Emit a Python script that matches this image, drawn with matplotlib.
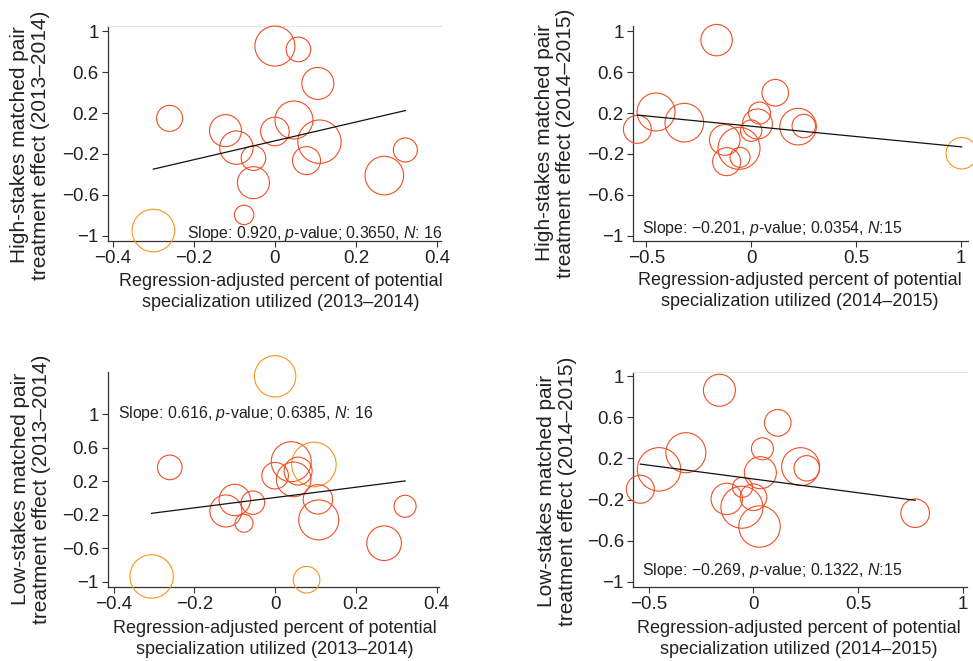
import matplotlib
matplotlib.use("Agg")
import matplotlib.pyplot as plt
import numpy as np

plt.rcParams["font.family"] = ["Liberation Sans", "DejaVu Sans"]
plt.rcParams["mathtext.fontset"] = "custom"
plt.rcParams["mathtext.rm"] = "Liberation Sans"
plt.rcParams["mathtext.it"] = "Liberation Sans:italic"

RED = "#F04E23"
ORANGE = "#F7941D"
INK = "#222222"

# ---- High-stakes, 2013-2014 ----
hs13_x = [0.000, 0.058, 0.106, -0.260, -0.122, 0.000, 0.047, 0.110,
          -0.095, -0.053, 0.078, 0.322, 0.270, -0.053, -0.076, -0.300]
hs13_y = [0.854, 0.821, 0.489, 0.148, 0.028, 0.020, 0.132, -0.080,
          -0.138, -0.240, -0.265, -0.161, -0.411, -0.480, -0.795, -0.948]
hs13_w = [20.0, 12.3, 16.0, 13.0, 16.0, 14.3, 19.0, 21.7,
          16.7, 12.3, 14.0, 12.0, 19.3, 16.0, 9.7, 21.3]
hs13_flag = [0, 0, 0, 0, 0, 0, 0, 0, 0, 0, 0, 0, 0, 0, 0, 1]
hs13_fit = (0.920, -0.072)
hs13_note = "Slope: 0.920, $p$-value; 0.3650, $N$: 16"

# ---- High-stakes, 2014-2015 ----
hs14_x = [-0.165, -0.543, -0.454, -0.319, -0.126, -0.117, -0.058, -0.053,
          0.000, 0.030, 0.040, 0.115, 0.224, 0.251, 1.005]
hs14_y = [0.912, 0.041, 0.210, 0.106, -0.063, -0.275, -0.145, -0.233,
          0.028, 0.093, 0.200, 0.398, 0.067, 0.073, -0.193]
hs14_w = [15.7, 14.0, 19.0, 19.3, 15.3, 14.0, 21.0, 10.0,
          10.7, 15.0, 11.0, 13.3, 18.3, 11.7, 15.7]
hs14_flag = [0, 0, 0, 0, 0, 0, 0, 0, 0, 0, 0, 0, 0, 0, 1]
hs14_fit = (-0.201, 0.071)
hs14_note = "Slope: \u22120.201, $p$-value; 0.0354, $N$:15"

# ---- Low-stakes, 2013-2014 ----
ls13_x = [0.000, -0.261, 0.000, 0.040, 0.096, 0.057, 0.046, 0.106, 0.108,
          -0.100, -0.055, -0.122, -0.077, 0.322, 0.270, -0.306, 0.078]
ls13_y = [1.452, 0.365, 0.266, 0.433, 0.400, 0.321, 0.222, -0.016, -0.262,
          -0.024, -0.056, -0.155, -0.302, -0.099, -0.540, -0.937, -0.976]
ls13_w = [20.7, 12.3, 13.3, 20.0, 22.3, 14.0, 17.3, 14.7, 20.0,
          15.7, 11.7, 16.0, 9.0, 11.0, 17.3, 21.7, 13.3]
ls13_flag = [1, 0, 0, 0, 1, 0, 0, 0, 0, 0, 0, 0, 0, 0, 0, 1, 1]
ls13_fit = (0.616, 0.005)
ls13_note = "Slope: 0.616, $p$-value; 0.6385, $N$: 16"

# ---- Low-stakes, 2014-2015 ----
ls14_x = [-0.162, 0.116, 0.043, -0.322, -0.450, -0.539, 0.033, 0.225,
          0.254, -0.052, 0.000, -0.127, -0.055, 0.029, 0.771]
ls14_y = [0.864, 0.547, 0.294, 0.256, 0.094, -0.100, 0.061, 0.120,
          0.104, -0.081, -0.178, -0.194, -0.275, -0.463, -0.333]
ls14_w = [16.0, 13.3, 11.0, 20.0, 21.7, 14.0, 16.0, 19.0,
          12.7, 10.0, 13.3, 15.7, 21.0, 20.7, 14.3]
ls14_flag = [0] * 15
ls14_fit = (-0.269, 0.000)
ls14_note = "Slope: \u22120.269, $p$-value; 0.1322, $N$:15"

y_ticks = [-1, -0.6, -0.2, 0.2, 0.6, 1]
y_labels = ["\u22121", "\u22120.6", "\u22120.2", "0.2", "0.6", "1"]
x_ticks_a = [-0.4, -0.2, 0, 0.2, 0.4]
x_labels_a = ["\u22120.4", "\u22120.2", "0", "0.2", "0.4"]
x_ticks_b = [-0.5, 0, 0.5, 1]
x_labels_b = ["\u22120.5", "0", "0.5", "1"]

ylab_hs13 = "High-stakes matched pair\ntreatment effect (2013\u20132014)"
ylab_hs14 = "High-stakes matched pair\ntreatment effect (2014\u20132015)"
ylab_ls13 = "Low-stakes matched pair\ntreatment effect (2013\u20132014)"
ylab_ls14 = "Low-stakes matched pair\ntreatment effect (2014\u20132015)"
xlab_13 = "Regression-adjusted percent of potential\nspecialization utilized (2013\u20132014)"
xlab_14 = "Regression-adjusted percent of potential\nspecialization utilized (2014\u20132015)"

W, H = 973, 661
fig = plt.figure(figsize=(W / 100, H / 100), dpi=100)


def px_axes(left, top, right, bottom):
    return fig.add_axes([left / W, 1 - bottom / H, (right - left) / W, (bottom - top) / H])


def panel(box, xs, ys, ws, flags, fit, note, note_pos, note_ha,
          xlim, ylim, xt, xl, ylab, ylab_px, xlab, xlab_px, top_rule):
    ax = px_axes(*box)
    xs = np.asarray(xs)
    ys = np.asarray(ys)
    ws = np.asarray(ws)
    cols = [ORANGE if f else RED for f in flags]
    # weight -> marker area (points^2)
    sizes = (2 * ws * 0.72) ** 2
    ax.scatter(xs, ys, s=sizes, facecolors="none", edgecolors=cols,
               linewidths=0.8, clip_on=False, zorder=3)
    slope, icpt = fit
    lx = np.array([xs.min(), xs.max()])
    ax.plot(lx, icpt + slope * lx, color="#111111", lw=0.9, zorder=4)
    ax.set_xlim(*xlim)
    ax.set_ylim(*ylim)
    ax.set_xticks(xt)
    ax.set_xticklabels(xl)
    ax.set_yticks(y_ticks)
    ax.set_yticklabels(y_labels)
    ax.tick_params(axis="both", direction="out", length=4, width=0.8,
                   color="#333333", labelcolor=INK, labelsize=13.5, pad=2.5)
    for s in ("left", "bottom"):
        ax.spines[s].set_color("#333333")
        ax.spines[s].set_linewidth(0.9)
    ax.spines["right"].set_visible(False)
    if top_rule:
        ax.spines["top"].set_color("#e4e4e4")
        ax.spines["top"].set_linewidth(0.8)
    else:
        ax.spines["top"].set_visible(False)
    ax.text(note_pos[0], note_pos[1], note, transform=ax.transData,
            ha=note_ha, va="center", fontsize=11.4, color=INK, zorder=5)
    fig.text(ylab_px[0] / W, 1 - ylab_px[1] / H, ylab, rotation=90,
             ha="center", va="center", multialignment="center",
             fontsize=15, color=INK, linespacing=1.15)
    fig.text(xlab_px[0] / W, 1 - xlab_px[1] / H, xlab,
             ha="center", va="center", multialignment="center",
             fontsize=13, color=INK, linespacing=1.3)
    return ax


panel((108, 26, 441, 241), hs13_x, hs13_y, hs13_w, hs13_flag, hs13_fit,
      hs13_note, (0.414, -0.974), "right", (-0.412, 0.41), (-1.05, 1.05),
      x_ticks_a, x_labels_a, ylab_hs13, (30, 145), xlab_13, (281, 292), True)

panel((633, 26, 968, 241), hs14_x, hs14_y, hs14_w, hs14_flag, hs14_fit,
      hs14_note, (-0.522, -0.925), "left", (-0.564, 1.035), (-1.05, 1.05),
      x_ticks_b, x_labels_b, ylab_hs14, (555, 143), xlab_14, (800, 291), False)

panel((108, 372, 439, 587), ls13_x, ls13_y, ls13_w, ls13_flag, ls13_fit,
      ls13_note, (-0.390, 1.008), "left", (-0.414, 0.406), (-1.063, 1.504),
      x_ticks_a, x_labels_a, ylab_ls13, (31, 489), xlab_13, (275, 639), False)

panel((633, 372, 967, 587), ls14_x, ls14_y, ls14_w, ls14_flag, ls14_fit,
      ls14_note, (-0.530, -0.893), "left", (-0.574, 1.018), (-1.052, 1.042),
      x_ticks_b, x_labels_b, ylab_ls14, (557, 491), xlab_14, (799, 639), True)

fig.savefig("out.png", dpi=100)
